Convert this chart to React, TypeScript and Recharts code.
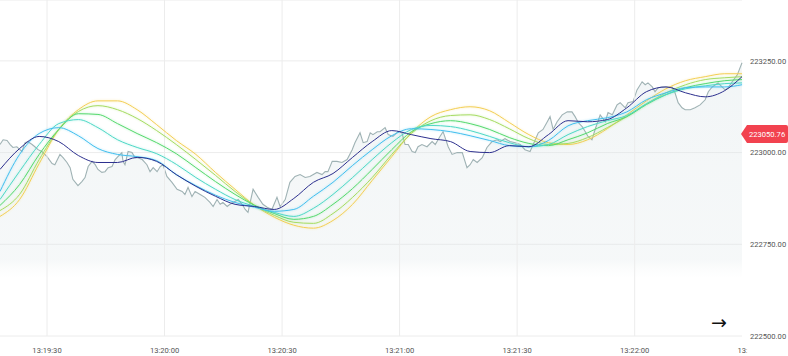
import { ComposedChart, Area, Line, XAxis, YAxis, CartesianGrid, ReferenceLine } from 'recharts';

// seconds after 13:19:00
const priceSec = [
  18.0, 18.8, 19.8, 20.6, 21.3, 22.3, 23.1, 23.6, 24.4, 25.1, 26.2, 26.9, 27.7, 28.7, 30.0, 31.3, 32.0, 33.3, 34.1, 35.1,
  35.9, 36.6, 37.9, 38.9, 39.7, 40.5, 41.5, 42.3, 43.0, 44.0, 44.8, 45.6, 46.6, 47.4, 48.1, 49.1, 49.4, 49.9, 50.7, 51.7,
  52.5, 53.2, 54.3, 55.5, 56.3, 57.1, 58.1, 58.9, 59.6, 60.6, 61.9, 63.2, 64.5, 65.2, 66.0, 67.0, 67.8, 69.1, 70.3, 71.6,
  72.4, 73.4, 74.2, 74.9, 76.0, 76.7, 77.5, 78.8, 79.8, 80.6, 81.3, 82.6, 83.9, 85.1, 86.2, 87.4, 88.7, 89.5, 90.8, 92.0,
  93.3, 94.6, 95.9, 97.1, 98.9, 100.2, 101.0, 101.7, 102.8, 104.0, 105.3, 106.6, 107.9, 108.6, 109.9, 110.7, 111.7, 112.5,
  113.2, 114.3, 115.0, 116.3, 117.1, 118.3, 119.6, 120.6, 121.4, 122.2, 123.2, 124.0, 124.7, 125.7, 127.0, 128.3, 129.1,
  130.3, 131.1, 132.4, 133.4, 134.7, 136.0, 137.2, 138.0, 138.8, 139.8, 141.1, 142.3, 143.6, 144.9, 145.7, 146.9, 148.2,
  149.5, 150.8, 152.0, 153.3, 154.1, 155.4, 156.6, 157.7, 158.4, 159.2, 160.2, 161.5, 162.8, 164.0, 164.8, 165.6, 166.6,
  167.4, 168.1, 169.1, 169.9, 171.2, 172.5, 173.2, 174.3, 175.5, 176.3, 177.6, 178.3, 179.6, 180.6, 181.9, 182.7, 183.4,
  184.5, 185.2, 186.0, 187.0, 188.3, 189.6, 190.3, 191.1, 192.1, 192.9, 194.2, 195.4, 196.7, 198.0, 198.8, 199.8, 200.6,
  201.3, 202.3, 203.1, 203.9, 204.9, 206.2, 207.4,
];
const priceVal = [
  223022, 223035, 223033, 223022, 223014, 223016, 223008, 223003, 223027, 223030, 223022, 223016, 223008, 223003, 222989, 222970, 222967, 222995, 222986, 222973,
  222959, 222927, 222910, 222921, 222932, 222962, 222976, 222967, 222954, 222946, 222948, 222959, 222962, 222981, 222989, 223000, 222976, 222967, 223003, 223000,
  222986, 222986, 222981, 222967, 222948, 222959, 222948, 222962, 222967, 222935, 222919, 222900, 222894, 222886, 222905, 222880, 222894, 222886, 222878, 222864,
  222853, 222872, 222859, 222864, 222853, 222859, 222864, 222872, 222859, 222845, 222837, 222900, 222878, 222859, 222851, 222845, 222878, 222853, 222872, 222919,
  222935, 222940, 222932, 222935, 222946, 222940, 222948, 222948, 222976, 222976, 222973, 222981, 223008, 223027, 223054, 223027, 223030, 223054,
  223049, 223057, 223057, 223068, 223049, 223044, 223057, 223054, 223022, 223022, 223003, 223000, 223016, 223022, 223016, 223030, 223022,
  223044, 223057, 223016, 222995, 223000, 223000, 222959, 222967, 222981, 222973, 222986, 223014, 223030, 223035, 223030, 223038, 223030,
  223027, 223022, 223008, 223003, 223022, 223054, 223063, 223084, 223098, 223063, 223084, 223103, 223111, 223111, 223098, 223082, 223071,
  223057, 223044, 223035, 223063, 223103, 223084, 223109, 223103, 223130, 223136, 223122, 223136, 223139, 223171, 223193, 223185, 223190,
  223179, 223166, 223177, 223179, 223179, 223179, 223163, 223136, 223122, 223117, 223117, 223122, 223130, 223144, 223166, 223179, 223185,
  223190, 223179, 223171, 223177, 223193, 223212, 223245,
];

// averages, sampled every 5 s
const maSec = [
  18, 23, 28, 33, 38, 43, 48, 53, 58, 63, 68, 73, 78, 83, 88, 93, 98, 103, 108, 113,
  118, 123, 128, 133, 138, 143, 148, 153, 158, 163, 168, 173, 178, 183, 188, 193, 198, 203, 207.4,
];
const maNavy = [
  222954, 223011, 223044, 223030, 222992, 222973, 222973, 222987, 222976, 222940, 222908, 222881, 222859, 222853, 222845, 222875, 222919, 222943, 222987, 223030,
  223060, 223049, 223038, 223030, 223003, 223000, 223019, 223016, 223049, 223087, 223084, 223090, 223122, 223166, 223179, 223163, 223152, 223169, 223207,
];
const maCyan = [
  222894, 222995, 223052, 223068, 223046, 223011, 222995, 222989, 222978, 222940, 222910, 222884, 222864, 222851, 222840, 222845, 222881, 222919, 222965, 223008,
  223046, 223065, 223063, 223057, 223046, 223033, 223019, 223016, 223033, 223073, 223087, 223095, 223111, 223144, 223163, 223177, 223179, 223179, 223185,
];
const maMint = [
  222872, 222949, 223022, 223079, 223090, 223068, 223035, 223014, 222997, 222968, 222932, 222900, 222872, 222853, 222837, 222826, 222848, 222886, 222932, 222981,
  223027, 223063, 223074, 223071, 223060, 223044, 223027, 223016, 223022, 223049, 223071, 223087, 223101, 223133, 223158, 223174, 223182, 223188, 223190,
];
const maGreen = [
  222856, 222913, 222995, 223063, 223106, 223104, 223079, 223052, 223027, 222997, 222959, 222921, 222886, 222856, 222834, 222818, 222826, 222859, 222902, 222954,
  223008, 223057, 223079, 223087, 223079, 223063, 223041, 223025, 223019, 223035, 223054, 223079, 223098, 223131, 223158, 223177, 223188, 223196, 223199,
];
const maLime = [
  222842, 222886, 222981, 223063, 223112, 223128, 223117, 223093, 223060, 223022, 222981, 222938, 222894, 222856, 222829, 222810, 222807, 222834, 222878, 222932,
  222995, 223052, 223087, 223101, 223103, 223090, 223065, 223038, 223022, 223025, 223041, 223068, 223098, 223133, 223163, 223185, 223199, 223204, 223207,
];
const maYellow = [
  222826, 222872, 222970, 223063, 223117, 223141, 223141, 223117, 223076, 223033, 222995, 222946, 222900, 222856, 222824, 222802, 222794, 222815, 222859, 222924,
  222989, 223054, 223098, 223117, 223125, 223114, 223082, 223049, 223027, 223022, 223035, 223065, 223103, 223141, 223174, 223196, 223207, 223215, 223215,
];

const timeTicks = [30, 60, 90, 120, 150, 180, 210];
const gridTimes = [30, 60, 90, 120, 150, 180];
const priceTicks = [222500, 222750, 223000, 223250];
const lastPrice = 223050.76;

const maLines = [
  { key: 'yellow', color: '#f3cf55' },
  { key: 'lime', color: '#a6dc63' },
  { key: 'green', color: '#55d96e' },
  { key: 'mint', color: '#4fd8c6' },
  { key: 'cyan', color: '#42bfee' },
  { key: 'navy', color: '#2c2f8e' },
];

const priceRows = priceSec.map((t, i) => ({ t, price: priceVal[i] }));
const maRows = maSec.map((t, i) => ({
  t,
  navy: maNavy[i],
  cyan: maCyan[i],
  mint: maMint[i],
  green: maGreen[i],
  lime: maLime[i],
  yellow: maYellow[i],
}));

const fmtTime = (s: number) => {
  const total = 13 * 3600 + 19 * 60 + s;
  const h = Math.floor(total / 3600);
  const m = Math.floor((total % 3600) / 60);
  const sec = Math.round(total % 60);
  const p = (n: number) => String(n).padStart(2, '0');
  return `${p(h)}:${p(m)}:${p(sec)}`;
};

// the last time label runs under the price scale and gets cut off there
const TimeTick = (props: any) => {
  const { x, y, payload } = props;
  const isLast = payload.value === timeTicks[timeTicks.length - 1];
  const id = `tclip-${payload.value}`;
  return (
    <g>
      {isLast && (
        <clipPath id={id}>
          <rect x={x - 30} y={y - 4} width={25} height={20} />
        </clipPath>
      )}
      <text
        x={x}
        y={y}
        dy="0.71em"
        textAnchor="middle"
        fontSize={7.6}
        fill="#555"
        fontFamily="Roboto, sans-serif"
        clipPath={isLast ? `url(#${id})` : undefined}
      >
        {fmtTime(payload.value)}
      </text>
    </g>
  );
};

const PriceTag = (props: any) => {
  const { viewBox } = props;
  if (!viewBox) return null;
  const x = viewBox.x + viewBox.width;
  const y = viewBox.y;
  return (
    <g>
      <path
        d={`M${x - 1},${y} L${x + 5},${y - 9} L${x + 44},${y - 9} Q${x + 46},${y - 9} ${x + 46},${y - 7} L${x + 46},${y + 7} Q${x + 46},${y + 9} ${x + 44},${y + 9} L${x + 5},${y + 9} Z`}
        fill="#f2424f"
      />
      <text x={x + 7} y={y} dy="0.35em" fill="#fff" fontSize={7.6} fontFamily="Roboto, sans-serif">
        {lastPrice.toFixed(2)}
      </text>
    </g>
  );
};

export default function App() {
  return (
    <div style={{ position: 'absolute', left: 0, top: 0, width: 788, height: 356, background: '#fff' }}>
      <ComposedChart width={788} height={356} data={priceRows} margin={{ top: 0, right: 0, bottom: 0, left: 0 }}>
        <defs>
          <linearGradient id="priceFill" x1="0" y1="0" x2="0" y2="1">
            <stop offset="0%" stopColor="#dbe5e8" stopOpacity={0.6} />
            <stop offset="72%" stopColor="#e0e8ea" stopOpacity={0.5} />
            <stop offset="79%" stopColor="#eef2f3" stopOpacity={0} />
          </linearGradient>
          <filter id="glow" x="-5%" y="-20%" width="110%" height="140%">
            <feGaussianBlur in="SourceGraphic" stdDeviation="1.2" result="b" />
            <feComponentTransfer in="b" result="soft">
              <feFuncA type="linear" slope="0.45" />
            </feComponentTransfer>
            <feMerge>
              <feMergeNode in="soft" />
              <feMergeNode in="SourceGraphic" />
            </feMerge>
          </filter>
        </defs>
        <CartesianGrid stroke="#ececec" strokeWidth={1} vertical={false} />
        {gridTimes.map((t) => (
          <ReferenceLine key={t} x={t} stroke="#ececec" strokeWidth={1} />
        ))}
        <XAxis
          dataKey="t"
          type="number"
          domain={[18, 207.4]}
          ticks={timeTicks}
          interval={0}
          axisLine={false}
          tickLine={false}
          tickMargin={6}
          height={20}
          tick={<TimeTick />}
        />
        <YAxis
          orientation="right"
          type="number"
          domain={[222500, 223416]}
          ticks={priceTicks}
          interval={0}
          tickFormatter={(v: number) => v.toFixed(2)}
          axisLine={false}
          tickLine={false}
          width={46}
          tick={{ fontSize: 7.6, fill: '#555', fontFamily: 'Roboto, sans-serif', textAnchor: 'start' }}
        />
        <Area
          dataKey="price"
          type="linear"
          stroke="#9fb2b4"
          strokeWidth={1.1}
          fill="url(#priceFill)"
          dot={false}
          activeDot={false}
          isAnimationActive={false}
        />
        {maLines.map((m) => (
          <Line
            key={m.key}
            data={maRows}
            dataKey={m.key}
            type="monotone"
            stroke={m.color}
            strokeWidth={1}
            filter={m.key === 'navy' ? undefined : 'url(#glow)'}
            dot={false}
            activeDot={false}
            isAnimationActive={false}
          />
        ))}
        <ReferenceLine y={lastPrice} stroke="none" label={<PriceTag />} />
      </ComposedChart>
      <div
        style={{
          position: 'absolute',
          left: 711,
          top: 313,
          fontSize: 19,
          lineHeight: '19px',
          fontFamily: 'DejaVu Sans, sans-serif',
          color: '#111',
        }}
      >
        →
      </div>
    </div>
  );
}
